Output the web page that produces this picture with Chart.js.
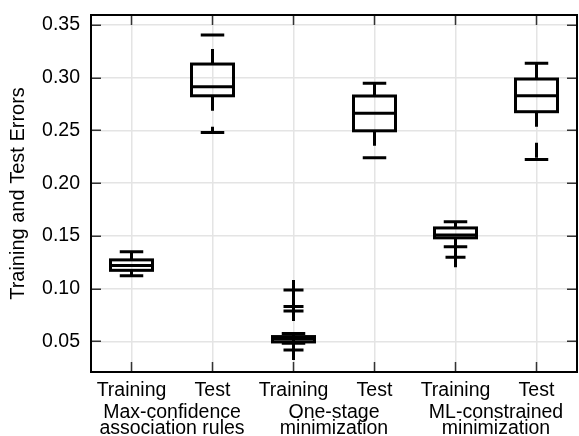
<!DOCTYPE html>
<html>
<head>
<meta charset="utf-8">
<script src="https://cdn.jsdelivr.net/npm/chart.js@4"></script>
<style>
html, body { margin: 0; padding: 0; overflow: hidden; background: #fff; }
canvas { display: block; }
</style>
</head>
<body>
<canvas id="c" width="590" height="436"></canvas>
<script>
// ---- data ----
const categories = ['Training', 'Test', 'Training', 'Test', 'Training', 'Test'];
const groups = [['Max-confidence', 'association rules'], ['One-stage', 'minimization'], ['ML-constrained', 'minimization']];
const whiskerLow  = [0.1122, 0.2482, 0.0483, 0.2241, 0.1397, 0.2226];
const q1          = [0.1174, 0.2829, 0.0495, 0.2497, 0.1482, 0.2678];
const median      = [0.1219, 0.2915, 0.0522, 0.2663, 0.1508, 0.2829];
const q3          = [0.1273, 0.3130, 0.0546, 0.2827, 0.1576, 0.2988];
const whiskerHigh = [0.1350, 0.3405, 0.0574, 0.2947, 0.1634, 0.3137];
// outliers: category index (0-based) and value
const flierCat = [2, 2, 2, 2, 4];
const flierVal = [0.0987, 0.0830, 0.0788, 0.0418, 0.1297];
const yTicks = [0.05, 0.10, 0.15, 0.20, 0.25, 0.30, 0.35];
const yTickLabels = ['0.05', '0.10', '0.15', '0.20', '0.25', '0.30', '0.35'];
const yTitle = 'Training and Test Errors';

const FONT = '"Liberation Sans", Arial, Helvetica, sans-serif';
const FS = 19.5;

const boxPlugin = {
  id: 'boxes',
  afterDatasetsDraw(chart) {
    const {ctx, scales: {x, y}} = chart;
    ctx.save();
    ctx.strokeStyle = '#000';
    ctx.lineWidth = 3;
    ctx.lineCap = 'butt';
    const hw = 21, cw = 11.75;
    categories.forEach((c, i) => {
      const px = x.getPixelForValue(i + 1);
      const pq1 = y.getPixelForValue(q1[i]);
      const pq3 = y.getPixelForValue(q3[i]);
      const pm = y.getPixelForValue(median[i]);
      const plo = y.getPixelForValue(whiskerLow[i]);
      const phi = y.getPixelForValue(whiskerHigh[i]);
      // whiskers (dashed)
      ctx.setLineDash([15, 16]);
      ctx.beginPath();
      ctx.moveTo(px, pq3); ctx.lineTo(px, phi);
      ctx.moveTo(px, pq1); ctx.lineTo(px, plo);
      ctx.stroke();
      ctx.setLineDash([]);
      // caps
      ctx.beginPath();
      ctx.moveTo(px - cw, phi); ctx.lineTo(px + cw, phi);
      ctx.moveTo(px - cw, plo); ctx.lineTo(px + cw, plo);
      ctx.stroke();
      // box
      ctx.lineJoin = 'miter';
      ctx.strokeRect(px - hw, pq3, 2 * hw, pq1 - pq3);
      // median
      ctx.beginPath();
      ctx.moveTo(px - hw, pm); ctx.lineTo(px + hw, pm);
      ctx.stroke();
    });
    ctx.restore();
  },
  afterDraw(chart) {
    const {ctx, chartArea: a, scales: {x, y}} = chart;
    ctx.save();
    ctx.strokeStyle = '#333';
    ctx.lineWidth = 1.5;
    ctx.beginPath();
    yTicks.forEach(v => {
      const py = Math.round(y.getPixelForValue(v)) + 0.25;
      ctx.moveTo(a.left, py); ctx.lineTo(a.left + 10, py);
      ctx.moveTo(a.right - 10, py); ctx.lineTo(a.right, py);
    });
    categories.forEach((c, i) => {
      const px = x.getPixelForValue(i + 1);
      ctx.moveTo(px, a.top); ctx.lineTo(px, a.top + 10);
      ctx.moveTo(px, a.bottom - 10); ctx.lineTo(px, a.bottom);
    });
    ctx.stroke();
    ctx.strokeStyle = '#000';
    ctx.lineWidth = 2;
    ctx.strokeRect(a.left, a.top, a.right - a.left, a.bottom - a.top);
    ctx.restore();
  }
};

const groupPos = groups.map((g, k) => (2 * k + 1 + 2 * k + 2) / 2);

new Chart(document.getElementById('c'), {
  type: 'scatter',
  data: {
    datasets: [{
      data: flierCat.map((c, i) => ({x: c + 1, y: flierVal[i]})),
      pointStyle: 'cross',
      radius: 10,
      borderWidth: 3,
      borderColor: '#000',
      backgroundColor: '#000'
    }]
  },
  options: {
    responsive: false,
    devicePixelRatio: 1,
    animation: false,
    events: [],
    layout: {padding: {top: 15, right: 8, left: 0, bottom: 0}},
    plugins: {legend: {display: false}, tooltip: {enabled: false}},
    scales: {
      x: {
        type: 'linear', position: 'bottom', min: 0.5, max: 6.5, weight: 0,
        afterBuildTicks: s => { s.ticks = categories.map((c, i) => ({value: i + 1})); },
        afterFit: s => { s.height = 29; s.paddingLeft = 0; s.paddingRight = 0; },
        grid: {color: '#e4e4e4', lineWidth: 1.5, drawTicks: false},
        border: {display: false},
        ticks: {
          autoSkip: false, maxRotation: 0, minRotation: 0, padding: 6.5,
          color: '#000', font: {family: FONT, size: FS},
          callback: (v, i) => categories[i]
        }
      },
      x2: {
        type: 'linear', position: 'bottom', min: 0.5, max: 6.5, weight: 1,
        afterBuildTicks: s => { s.ticks = groupPos.map(v => ({value: v})); },
        afterFit: s => { s.height = 35; s.paddingLeft = 0; s.paddingRight = 0; },
        grid: {display: false, drawTicks: false},
        border: {display: false},
        ticks: {
          autoSkip: false, maxRotation: 0, minRotation: 0, padding: 4,
          color: '#000', font: {family: FONT, size: FS, lineHeight: 16 / FS},
          callback: (v, i) => groups[i]
        }
      },
      y: {
        type: 'linear', min: 0.021, max: 0.3595,
        afterBuildTicks: s => { s.ticks = yTicks.map(v => ({value: v})); },
        afterFit: s => { s.width = 91; s.paddingTop = 0; s.paddingBottom = 0; },
        grid: {color: '#e4e4e4', lineWidth: 1.5, drawTicks: false},
        border: {display: false},
        ticks: {
          padding: 11, color: '#000', font: {family: FONT, size: FS},
          callback: (v, i) => yTickLabels[i]
        },
        title: {
          display: true, text: yTitle, color: '#000',
          font: {family: FONT, size: 20}, padding: {top: 6.5, bottom: 0}
        }
      }
    }
  },
  plugins: [boxPlugin]
});
</script>
</body>
</html>
